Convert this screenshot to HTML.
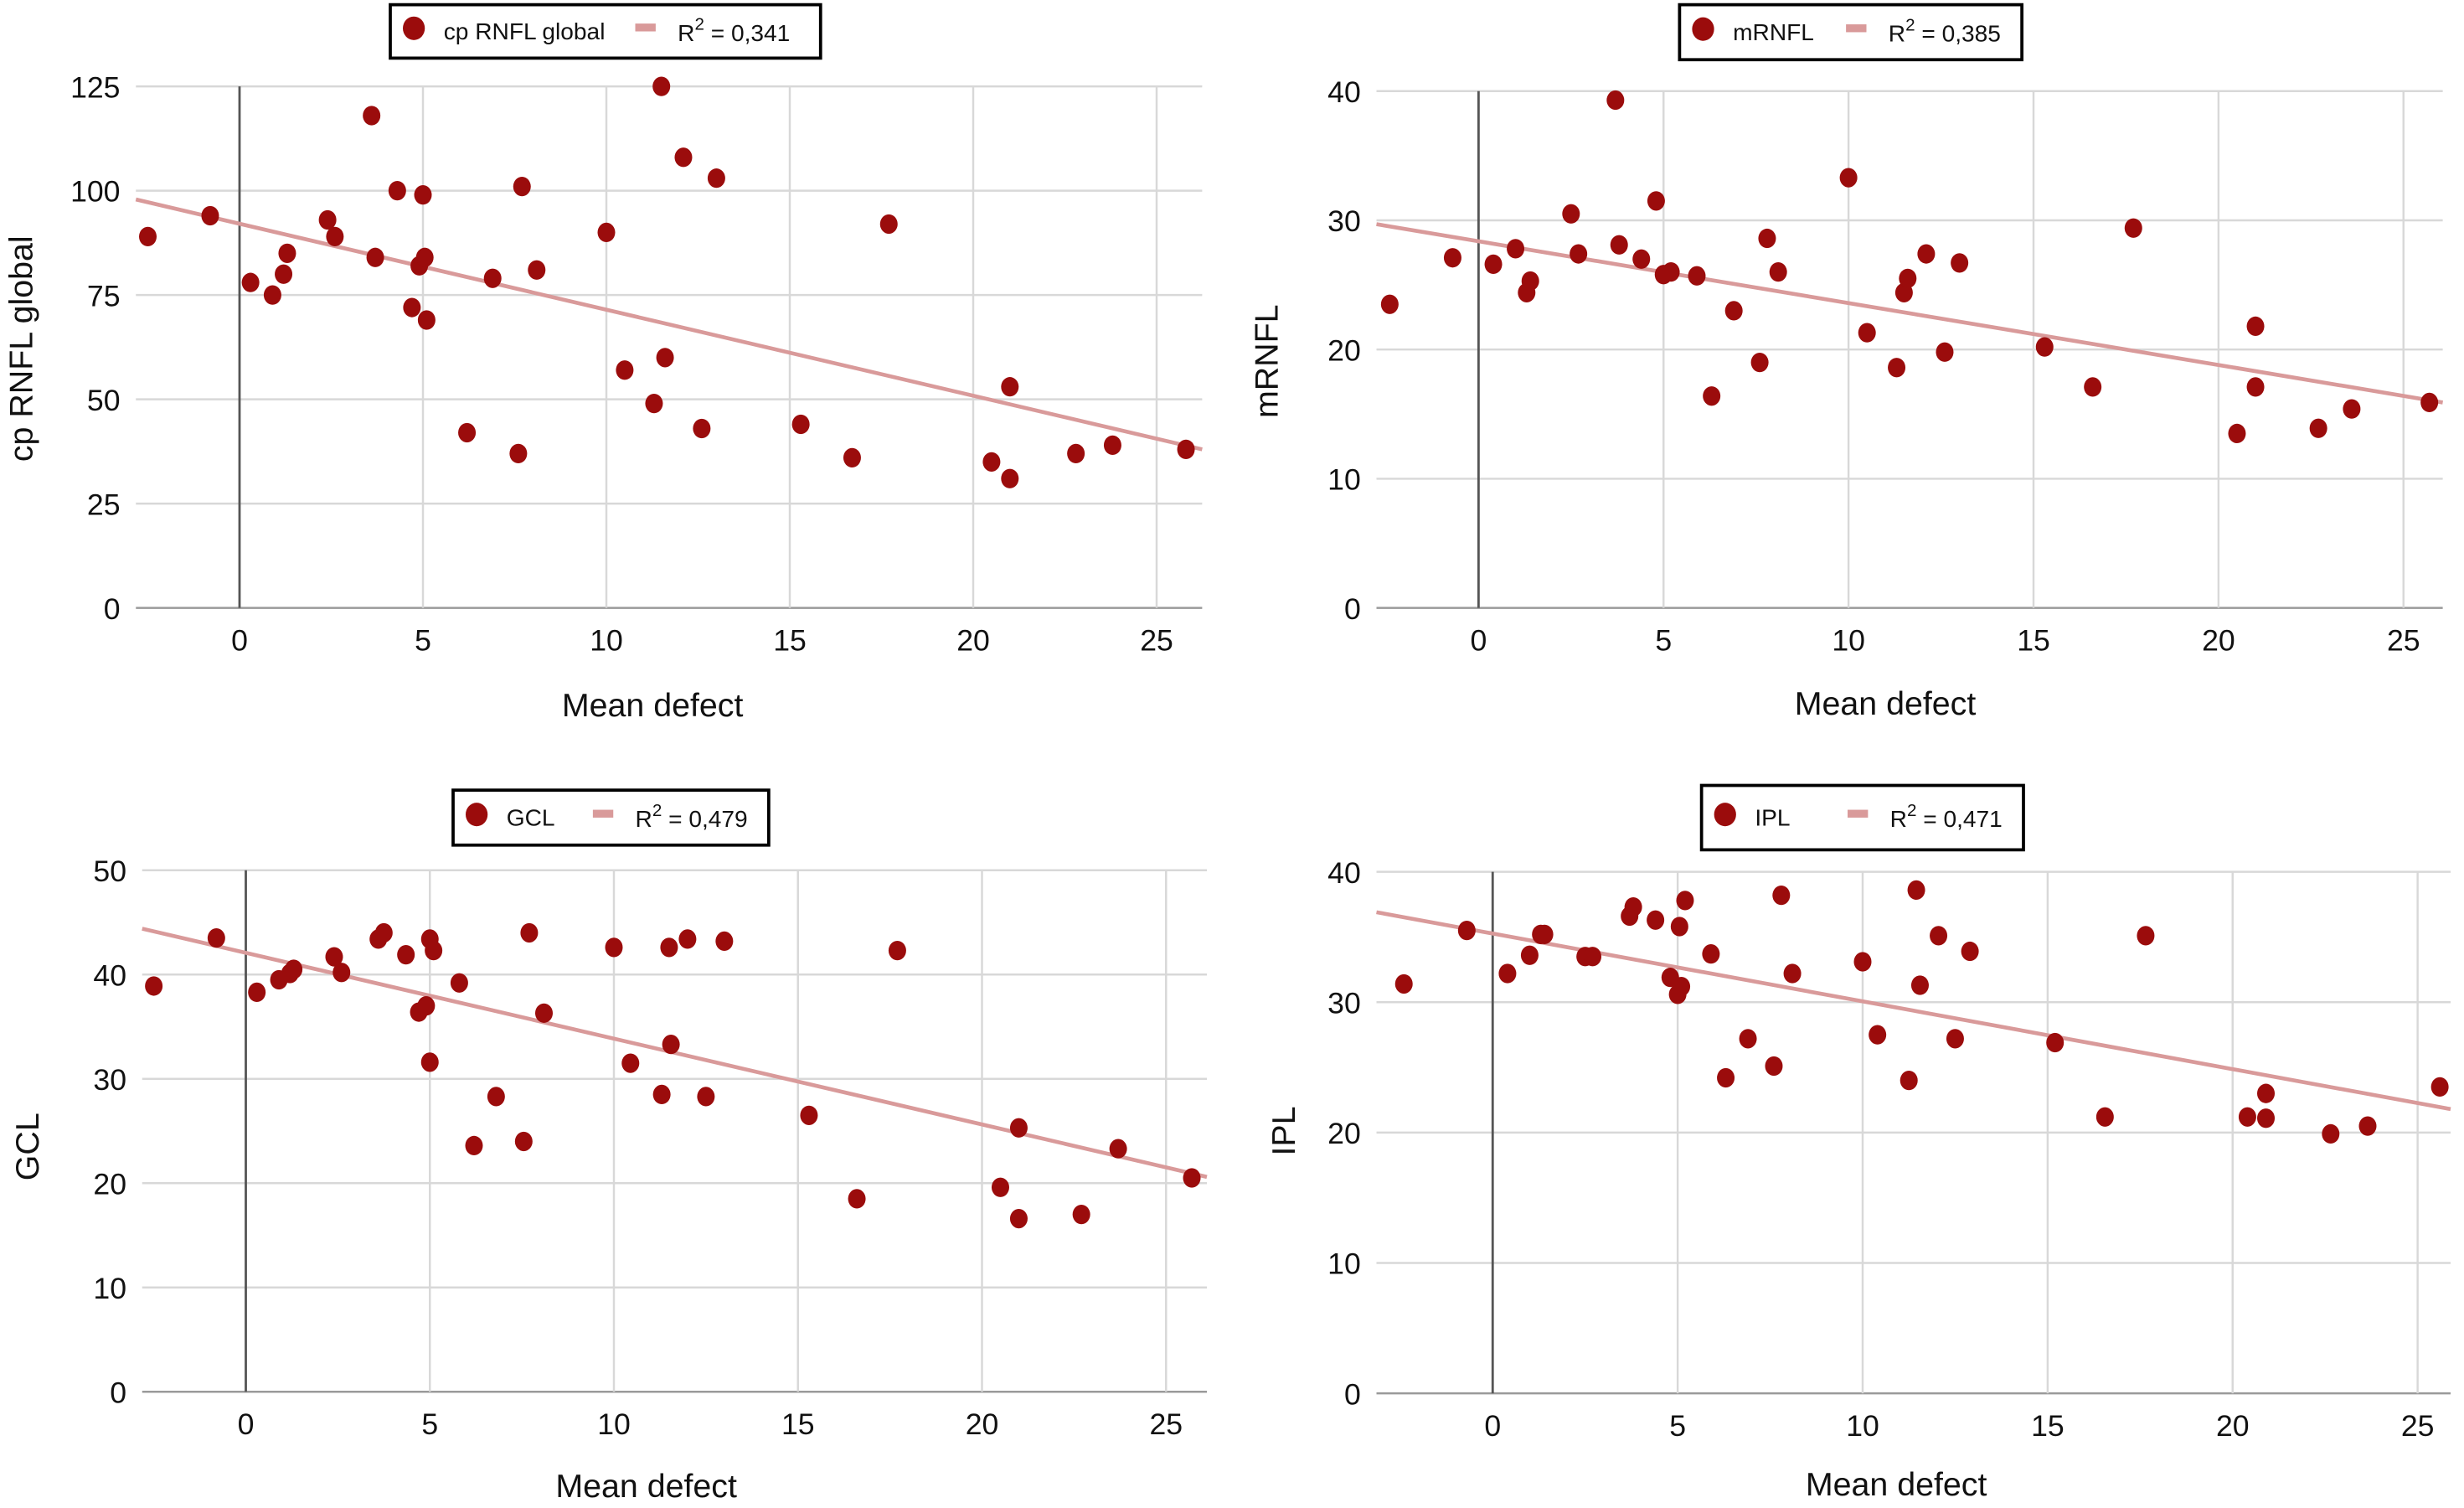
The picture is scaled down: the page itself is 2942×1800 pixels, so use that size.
<!DOCTYPE html>
<html><head><meta charset="utf-8">
<style>
html,body{margin:0;padding:0;background:#fff;}
svg{display:block;}
text{font-family:"Liberation Sans",Arial,sans-serif;fill:#111;}
</style></head>
<body>
<svg id="chart" width="2942" height="1800" viewBox="0 0 1568 960" xmlns="http://www.w3.org/2000/svg"></svg>
<script>
// Shared x values (mean defect) per panel
const mdRNFL = [-2.5,-0.8,0.3,0.9,1.2,1.3,2.4,2.6,3.6,3.7,4.3,4.7,4.9,5.0,5.05,5.1,6.2,6.9,7.6,7.7,8.1,10.0,10.5,11.3,11.5,11.6,12.1,12.6,13.0,15.3,16.7,17.7,20.5,21.0,21.0,22.8,23.8,25.8];
const valRNFL = [89,94,78,75,80,85,93,89,118,84,100,72,82,99,84,69,42,79,37,101,81,90,57,49,125,60,108,43,103,44,36,92,35,53,31,37,39,38];
const mdMRNFL = [-2.4,-0.7,0.4,1.0,1.3,1.4,2.5,2.7,3.7,3.8,4.4,4.8,5.0,5.2,5.9,6.3,6.9,7.6,7.8,8.1,10.0,10.5,11.3,11.5,11.6,12.1,12.6,13.0,15.3,16.6,17.7,20.5,21.0,21.0,22.7,23.6,25.7];
const valMRNFL = [23.5,27.1,26.6,27.8,24.4,25.3,30.5,27.4,39.3,28.1,27.0,31.5,25.8,26.0,25.7,16.4,23.0,19.0,28.6,26.0,33.3,21.3,18.6,24.4,25.5,27.4,19.8,26.7,20.2,17.1,29.4,13.5,17.1,21.8,13.9,15.4,15.9];
const mdGCL = [-2.5,-0.8,0.3,0.9,1.2,1.3,2.4,2.6,3.6,3.75,4.35,4.7,4.9,5.0,5.1,5.0,5.8,6.2,6.8,7.55,7.7,8.1,10.0,10.45,11.3,11.5,11.55,12.0,12.5,13.0,15.3,16.6,17.7,20.5,21.0,21.0,22.7,23.7,25.7];
const valGCL = [38.9,43.5,38.3,39.5,40.1,40.5,41.7,40.2,43.4,44,41.9,36.4,37.0,43.4,42.3,31.6,39.2,23.6,28.3,24.0,44,36.3,42.6,31.5,28.5,42.6,33.3,43.4,28.3,43.2,26.5,18.5,42.3,19.6,25.3,16.6,17.0,23.3,20.5];
const mdIPL = [-2.4,-0.7,0.4,1.0,1.3,1.4,2.5,2.7,3.7,3.8,4.4,4.8,5.0,5.05,5.2,5.1,5.9,6.3,6.9,7.6,7.8,8.1,10.0,10.4,11.25,11.45,11.55,12.05,12.5,12.9,15.2,16.55,17.65,20.4,20.9,20.9,22.65,23.65,25.6];
const valIPL = [31.4,35.5,32.2,33.6,35.2,35.2,33.5,33.5,36.6,37.3,36.3,31.9,30.6,35.8,37.8,31.2,33.7,24.2,27.2,25.1,38.2,32.2,33.1,27.5,24.0,38.6,31.3,35.1,27.2,33.9,26.9,21.2,35.1,21.2,23.0,21.1,19.9,20.5,23.5];
const xTicks = [0,5,10,15,20,25];
const yTicksRNFL = [0,25,50,75,100,125];
const yTicksMRNFL = [0,10,20,30,40];
const yTicksGCL = [0,10,20,30,40,50];
const yTicksIPL = [0,10,20,30,40];
const fitRNFL = [97.9,38.0];   // fitted value at left/right edge
const fitMRNFL = [29.7,15.9];
const fitGCL = [44.4,20.6];
const fitIPL = [36.9,21.8];
const r2Labels = ["0,341","0,385","0,479","0,471"];
const seriesNames = ["cp RNFL global","mRNFL","GCL","IPL"];

const NS="http://www.w3.org/2000/svg";
const svg=document.getElementById('chart');
function mk(tag,attrs,parent){const e=document.createElementNS(NS,tag);for(const k in attrs)e.setAttribute(k,attrs[k]);(parent||svg).appendChild(e);return e;}

function panel(cfg){
  const g=mk('g',{});
  
  
  const xs=v=>cfg.x0+v*cfg.xs;
  const ys=v=>cfg.y0-v*cfg.yps;
  const xmin=(cfg.left-cfg.x0)/cfg.xs, xmax=(cfg.right-cfg.x0)/cfg.xs;
  // horizontal grid
  cfg.yTicks.forEach(t=>{
    const l=mk('line',{x1:cfg.left,x2:cfg.right,y1:ys(t),y2:ys(t),stroke:t===0?'#9a9a9a':'#d8d8d8','stroke-width':1.3},g);
    
    
    const tx=mk('text',{x:cfg.left-10,y:ys(t)+7,'text-anchor':'end','font-size':19},g);
    tx.textContent=t;
    
    
  });
  xTicks.forEach(t=>{
    const l=mk('line',{x1:xs(t),x2:xs(t),y1:ys(cfg.yTicks[cfg.yTicks.length-1]),y2:ys(0),stroke:t===0?'#555':'#d8d8d8','stroke-width':t===0?1.5:1.3},g);
    
    
    const tx=mk('text',{x:xs(t),y:ys(0)+27,'text-anchor':'middle','font-size':19},g);
    tx.textContent=t;
    
    
  });
  const fl=mk('line',{x1:xs(xmin),y1:ys(cfg.fit[0]),x2:xs(xmax),y2:ys(cfg.fit[1]),stroke:'#d99a9a','stroke-width':2.5},g);
  
  
  cfg.md.forEach((m,i)=>{
    const c=mk('ellipse',{cx:xs(m),cy:ys(cfg.vals[i]),rx:5.6,ry:6.2,fill:'#9b0c0c'},g);
    
    
  });
  // axis titles
  const xl=mk('text',{x:cfg.xlx,y:cfg.xly,'text-anchor':'middle','font-size':21},g);
  xl.textContent='Mean defect';
  
  
  const yl=mk('text',{x:0,y:0,'text-anchor':'middle','font-size':21,transform:`translate(${cfg.ylx},${cfg.yly}) rotate(-90)`},g);
  yl.textContent=cfg.name;
  
  
  // legend
  const lg=mk('g',{},g);
  
  
  const L=cfg.leg;
  mk('rect',{x:L[0],y:L[1],width:L[2],height:L[3],fill:'#fff',stroke:'#000','stroke-width':2},lg);
  const cy=L[1]+L[3]/2;
  const lm=mk('ellipse',{cx:L[0]+15,cy:cy-2,rx:7,ry:7.5,fill:'#9b0c0c'},lg);
  
  
  const lt=mk('text',{x:L[0]+34,y:cy+5,'font-size':15},lg);
  lt.textContent=cfg.name;
  
  
  const sx=L[0]+L[2]-L[4];
  const ls=mk('rect',{x:sx,y:cy-5,width:13,height:5,fill:'#d99a9a'},lg);
  
  
  const rt=mk('text',{x:sx+27,y:cy+6,'font-size':15},lg);
  
  
  rt.innerHTML='R<tspan dy="-7" font-size="11">2</tspan><tspan dy="7"> = '+cfg.r2+'</tspan>';
}

panel({key:'cp-rnfl',name:seriesNames[0],md:mdRNFL,vals:valRNFL,yTicks:yTicksRNFL,fit:fitRNFL,r2:r2Labels[0],
  left:86,right:765,x0:152,xs:23.36,y0:387,yps:2.656,xlx:415,xly:456,ylx:20,yly:222,leg:[248,3,274,34,118]});
panel({key:'mrnfl',name:seriesNames[1],md:mdMRNFL,vals:valMRNFL,yTicks:yTicksMRNFL,fit:fitMRNFL,r2:r2Labels[1],
  left:876,right:1555,x0:941,xs:23.56,y0:387,yps:8.225,xlx:1200,xly:455,ylx:813,yly:230,leg:[1069,3,218,35,112]});
panel({key:'gcl',name:seriesNames[2],md:mdGCL,vals:valGCL,yTicks:yTicksGCL,fit:fitGCL,r2:r2Labels[2],
  left:90,right:768,x0:156,xs:23.44,y0:886,yps:6.64,xlx:411,xly:953,ylx:24,yly:730,leg:[288,503,201,35,112]});
panel({key:'ipl',name:seriesNames[3],md:mdIPL,vals:valIPL,yTicks:yTicksIPL,fit:fitIPL,r2:r2Labels[3],
  left:876,right:1560,x0:950,xs:23.56,y0:887,yps:8.3,xlx:1207,xly:952,ylx:824,yly:720,leg:[1083,500,205,41,112]});
</script>
</body></html>
